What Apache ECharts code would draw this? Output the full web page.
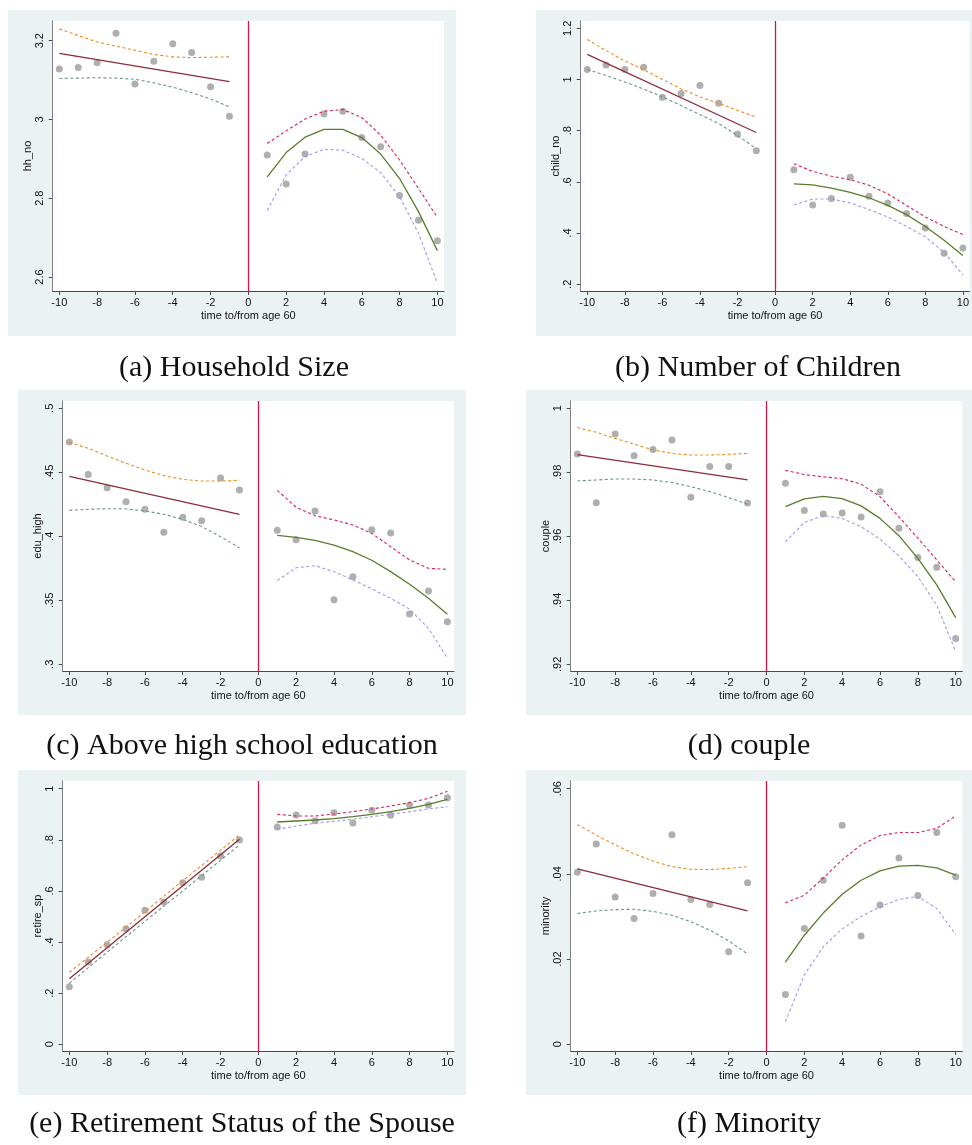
<!DOCTYPE html>
<html>
<head>
<meta charset="utf-8">
<script src="https://cdn.jsdelivr.net/npm/echarts@6/dist/echarts.min.js"></script>
<style>
html, body { margin: 0; padding: 0; background: #fff; }
#main { width: 972px; height: 1145px; }
</style>
</head>
<body>
<div id="main"></div>
<script>
// x positions: years to/from age 60
var xLeft = [-10, -9, -8, -7, -6, -5, -4, -3, -2, -1];
var xRight = [1, 2, 3, 4, 5, 6, 7, 8, 9, 10];
var xAll = xLeft.concat(xRight);
var xFitLeft = [-10, -1];
var xTicks = [-10, -8, -6, -4, -2, 0, 2, 4, 6, 8, 10];

// (a) household size
var hhDots = [3.128, 3.132, 3.144, 3.219, 3.090, 3.148, 3.192, 3.170, 3.083, 3.008,
              2.910, 2.836, 2.912, 3.014, 3.021, 2.954, 2.931, 2.807, 2.744, 2.692];
var hhFitL = [3.168, 3.096];
var hhUpL = [3.230, 3.213, 3.197, 3.186, 3.176, 3.165, 3.159, 3.157, 3.158, 3.159];
var hhLoL = [3.104, 3.105, 3.106, 3.105, 3.102, 3.093, 3.082, 3.068, 3.052, 3.032];
var hhFitR = [2.854, 2.916, 2.955, 2.975, 2.975, 2.954, 2.912, 2.850, 2.766, 2.667];
var hhUpR = [2.939, 2.971, 3.001, 3.021, 3.025, 3.005, 2.960, 2.897, 2.825, 2.751];
var hhLoR = [2.769, 2.859, 2.906, 2.924, 2.922, 2.901, 2.865, 2.804, 2.711, 2.584];
var hhTicks = [2.6, 2.8, 3, 3.2];

// (b) number of children
var childDots = [1.039, 1.057, 1.039, 1.048, 0.931, 0.945, 0.977, 0.907, 0.787, 0.722,
                 0.647, 0.510, 0.535, 0.618, 0.544, 0.518, 0.477, 0.420, 0.321, 0.342];
var childFitL = [1.098, 0.793];
var childUpL = [1.156, 1.113, 1.072, 1.039, 1.000, 0.963, 0.932, 0.907, 0.879, 0.853];
var childLoL = [1.039, 1.016, 0.990, 0.963, 0.932, 0.898, 0.863, 0.828, 0.781, 0.730];
var childFitR = [0.592, 0.588, 0.576, 0.559, 0.538, 0.508, 0.472, 0.426, 0.372, 0.312];
var childUpR = [0.671, 0.641, 0.622, 0.609, 0.587, 0.553, 0.508, 0.463, 0.426, 0.394];
var childLoR = [0.510, 0.533, 0.533, 0.518, 0.492, 0.463, 0.426, 0.385, 0.325, 0.237];
var childTicks = [0.2, 0.4, 0.6, 0.8, 1, 1.2];

// (c) above high school education
var eduDots = [0.4737, 0.4482, 0.4380, 0.4271, 0.4211, 0.4031, 0.4148, 0.4122, 0.4456, 0.4362,
               0.4047, 0.3974, 0.4198, 0.3505, 0.3685, 0.4052, 0.4026, 0.3393, 0.3573, 0.3333];
var eduFitL = [0.4469, 0.4172];
var eduUpL = [0.4734, 0.4688, 0.4628, 0.4570, 0.4518, 0.4474, 0.4445, 0.4432, 0.4432, 0.4438];
var eduLoL = [0.4203, 0.4211, 0.4216, 0.4214, 0.4198, 0.4172, 0.4133, 0.4076, 0.3997, 0.3911];
var eduFitR = [0.4008, 0.3992, 0.3969, 0.3932, 0.3880, 0.3813, 0.3724, 0.3625, 0.3516, 0.3391];
var eduUpR = [0.4359, 0.4227, 0.4161, 0.4128, 0.4089, 0.4023, 0.3919, 0.3815, 0.3750, 0.3742];
var eduLoR = [0.3654, 0.3755, 0.3771, 0.3724, 0.3659, 0.3589, 0.3516, 0.3432, 0.3281, 0.3047];
var eduTicks = [0.3, 0.35, 0.4, 0.45, 0.5];

// (d) couple
var coupleDots = [0.9857, 0.9705, 0.9920, 0.9852, 0.9871, 0.9901, 0.9722, 0.9818, 0.9818, 0.9704,
                  0.9766, 0.9681, 0.9670, 0.9673, 0.9660, 0.9739, 0.9625, 0.9534, 0.9503, 0.9281];
var coupleFitL = [0.9855, 0.9776];
var coupleUpL = [0.9940, 0.9925, 0.9906, 0.9888, 0.9870, 0.9859, 0.9854, 0.9854, 0.9856, 0.9859];
var coupleLoL = [0.9773, 0.9776, 0.9779, 0.9779, 0.9776, 0.9768, 0.9755, 0.9740, 0.9721, 0.9700];
var coupleFitR = [0.9693, 0.9717, 0.9725, 0.9718, 0.9695, 0.9656, 0.9602, 0.9531, 0.9448, 0.9346];
var coupleUpR = [0.9806, 0.9793, 0.9786, 0.9780, 0.9763, 0.9724, 0.9661, 0.9594, 0.9526, 0.9458];
var coupleLoR = [0.9583, 0.9643, 0.9665, 0.9656, 0.9630, 0.9591, 0.9539, 0.9474, 0.9385, 0.9240];
var coupleTicks = [0.92, 0.94, 0.96, 0.98, 1];

// (e) retirement status of the spouse
var retireDots = [0.2256, 0.3220, 0.3898, 0.4524, 0.5241, 0.5567, 0.6323, 0.6532, 0.7366, 0.7992,
                  0.8501, 0.8970, 0.8748, 0.9061, 0.8657, 0.9153, 0.8957, 0.9361, 0.9361, 0.9648];
var retireFitL = [0.2568, 0.8018];
var retireCiX = [-10, -7, -4, -1];
var retireUpL = [0.2816, 0.458, 0.640, 0.8188];
var retireLoL = [0.2386, 0.421, 0.600, 0.7797];
var retireFitR = [0.8696, 0.8735, 0.8774, 0.8827, 0.8905, 0.8996, 0.9101, 0.9231, 0.9387, 0.9583];
var retireUpR = [0.8996, 0.8931, 0.8931, 0.9009, 0.9101, 0.9205, 0.9322, 0.9452, 0.9622, 0.9896];
var retireLoR = [0.8409, 0.8540, 0.8644, 0.8722, 0.8801, 0.8905, 0.8996, 0.9101, 0.9205, 0.9296];
var retireTicks = [0, 0.2, 0.4, 0.6, 0.8, 1];

// (f) minority
var minorityDots = [0.0404, 0.0470, 0.0346, 0.0295, 0.0354, 0.0492, 0.0340, 0.0328, 0.0217, 0.0379,
                    0.0117, 0.0272, 0.0385, 0.0514, 0.0254, 0.0327, 0.0437, 0.0349, 0.0497, 0.0393];
var minorityFitL = [0.0412, 0.0313];
var minorityUpL = [0.0516, 0.0491, 0.0468, 0.0447, 0.0430, 0.0417, 0.0411, 0.0410, 0.0413, 0.0417];
var minorityLoL = [0.0307, 0.0313, 0.0316, 0.0317, 0.0312, 0.0303, 0.0288, 0.0268, 0.0243, 0.0212];
var minorityFitR = [0.0193, 0.0256, 0.0308, 0.0352, 0.0385, 0.0407, 0.0418, 0.0420, 0.0414, 0.0397];
var minorityUpR = [0.0332, 0.0350, 0.0390, 0.0433, 0.0468, 0.0490, 0.0497, 0.0497, 0.0507, 0.0536];
var minorityLoR = [0.0053, 0.0163, 0.0229, 0.0271, 0.0300, 0.0323, 0.0340, 0.0347, 0.0319, 0.0258];
var minorityTicks = [0, 0.02, 0.04, 0.06];

var panels = [
    { name: 'hh_no', caption: '(a) Household Size', dots: hhDots, fitL: hhFitL, upL: hhUpL, loL: hhLoL, ciX: xLeft,
      fitR: hhFitR, upR: hhUpR, loR: hhLoR, ticks: hhTicks, ymin: 2.5644, ymax: 3.250,
      grid: [52.7, 21, 391.3, 270], bg: [8, 10, 448, 326], cap: [234, 368] },
    { name: 'child_no', caption: '(b) Number of Children', dots: childDots, fitL: childFitL, upL: childUpL, loL: childLoL, ciX: xLeft,
      fitR: childFitR, upR: childUpR, loR: childLoR, ticks: childTicks, ymin: 0.1738, ymax: 1.2285,
      grid: [580.7, 21, 391, 270], bg: [536, 10, 436, 326], cap: [758, 368] },
    { name: 'edu_high', caption: '(c) Above high school education', dots: eduDots, fitL: eduFitL, upL: eduUpL, loL: eduLoL, ciX: xLeft,
      fitR: eduFitR, upR: eduUpR, loR: eduLoR, ticks: eduTicks, ymin: 0.2948, ymax: 0.5057,
      grid: [62.7, 401, 391.3, 270], bg: [18, 390, 448, 325], cap: [242, 746] },
    { name: 'couple', caption: '(d) couple', dots: coupleDots, fitL: coupleFitL, upL: coupleUpL, loL: coupleLoL, ciX: xLeft,
      fitR: coupleFitR, upR: coupleUpR, loR: coupleLoR, ticks: coupleTicks, ymin: 0.91791, ymax: 1.00228,
      grid: [570.7, 401, 391.6, 270], bg: [526, 390, 446, 325], cap: [749, 746] },
    { name: 'retire_sp', caption: '(e) Retirement Status of the Spouse', dots: retireDots, fitL: retireFitL, upL: retireUpL, loL: retireLoL, ciX: retireCiX,
      fitR: retireFitR, upR: retireUpR, loR: retireLoR, ticks: retireTicks, ymin: -0.0262, ymax: 1.030,
      grid: [62.7, 781, 391.3, 270], bg: [18, 770, 448, 325], cap: [242, 1124] },
    { name: 'minority', caption: '(f) Minority', dots: minorityDots, fitL: minorityFitL, upL: minorityUpL, loL: minorityLoL, ciX: xLeft,
      fitR: minorityFitR, upR: minorityUpR, loR: minorityLoR, ticks: minorityTicks, ymin: -0.00157, ymax: 0.0618,
      grid: [570.7, 781, 391.6, 270], bg: [526, 770, 446, 325], cap: [749, 1124] }
];

function zip(xs, ys) {
    var out = [];
    for (var i = 0; i < xs.length; i++) {
        out.push([xs[i], ys[i]]);
    }
    return out;
}

// stata style: drop the leading zero
function stataLabel(v) {
    var s = String(+(+v).toFixed(4));
    return s.replace(/^0\./, '.').replace(/^-0\./, '-.');
}

var sans = 'Liberation Sans';
var axisColor = '#4a4a4a';
var grids = [], xAxes = [], yAxes = [], series = [], graphics = [];

function dashLine(i, xs, ys, color) {
    return {
        type: 'line', xAxisIndex: i, yAxisIndex: i, data: zip(xs, ys),
        symbol: 'none', silent: true, z: 3,
        lineStyle: { color: color, width: 1.1, type: [3, 2.5] }
    };
}

function solidLine(i, xs, ys, color) {
    return {
        type: 'line', xAxisIndex: i, yAxisIndex: i, data: zip(xs, ys),
        symbol: 'none', silent: true, z: 3,
        lineStyle: { color: color, width: 1.3 }
    };
}

for (var i = 0; i < panels.length; i++) {
    var p = panels[i];
    graphics.push({
        type: 'rect', z: -10, silent: true,
        shape: { x: p.bg[0], y: p.bg[1], width: p.bg[2], height: p.bg[3] },
        style: { fill: '#eaf2f3' }
    });
    graphics.push({
        type: 'text', silent: true,
        style: {
            text: p.caption, x: p.cap[0], y: p.cap[1],
            font: '30px "Liberation Serif"', fill: '#111',
            align: 'center', verticalAlign: 'middle',
            textAlign: 'center', textVerticalAlign: 'middle'
        }
    });
    grids.push({
        left: p.grid[0], top: p.grid[1], width: p.grid[2], height: p.grid[3],
        show: true, backgroundColor: '#ffffff', borderWidth: 0, z: 1
    });
    xAxes.push({
        type: 'value', gridIndex: i, min: -10.35, max: 10.35,
        name: 'time to/from age 60', nameLocation: 'middle', nameGap: 19,
        nameTextStyle: { fontFamily: sans, fontSize: 11, color: '#111' },
        axisLine: { show: true, onZero: false, lineStyle: { color: axisColor, width: 1 } },
        axisTick: { show: true, customValues: xTicks, length: 4, lineStyle: { color: axisColor } },
        axisLabel: { customValues: xTicks, fontFamily: sans, fontSize: 11, color: '#111', margin: 6, formatter: stataLabel },
        splitLine: { show: false }
    });
    yAxes.push({
        type: 'value', gridIndex: i, min: p.ymin, max: p.ymax,
        name: p.name, nameLocation: 'middle', nameGap: 19, nameRotate: 90,
        nameTextStyle: { fontFamily: sans, fontSize: 11, color: '#111' },
        axisLine: { show: true, onZero: false, lineStyle: { color: axisColor, width: 1 } },
        axisTick: { show: true, customValues: p.ticks, length: 4, lineStyle: { color: axisColor } },
        axisLabel: { customValues: p.ticks, rotate: 90, fontFamily: sans, fontSize: 11, color: '#111', margin: 7, formatter: stataLabel },
        splitLine: { show: true, lineStyle: { color: '#e4eded', width: 1 } }
    });

    series.push({
        type: 'scatter', xAxisIndex: i, yAxisIndex: i, data: zip(xAll, p.dots),
        symbolSize: 7, itemStyle: { color: '#9b9b9b' }, silent: true, z: 2,
        markLine: {
            silent: true, symbol: 'none', label: { show: false },
            lineStyle: { color: '#d3164a', width: 1.3, type: 'solid' },
            data: [{ xAxis: 0 }]
        }
    });
    series.push(solidLine(i, xFitLeft, p.fitL, '#8e2b3d'));
    series.push(dashLine(i, p.ciX, p.upL, '#ef8a1e'));
    series.push(dashLine(i, p.ciX, p.loL, '#6a9586'));
    series.push(solidLine(i, xRight, p.fitR, '#5b7c2c'));
    series.push(dashLine(i, xRight, p.upR, '#dc1f50'));
    series.push(dashLine(i, xRight, p.loR, '#a297ea'));
}

var myChart = echarts.init(document.getElementById('main'));
myChart.setOption({
    animation: false,
    backgroundColor: '#ffffff',
    graphic: { elements: graphics },
    grid: grids,
    xAxis: xAxes,
    yAxis: yAxes,
    series: series
});
</script>
</body>
</html>
